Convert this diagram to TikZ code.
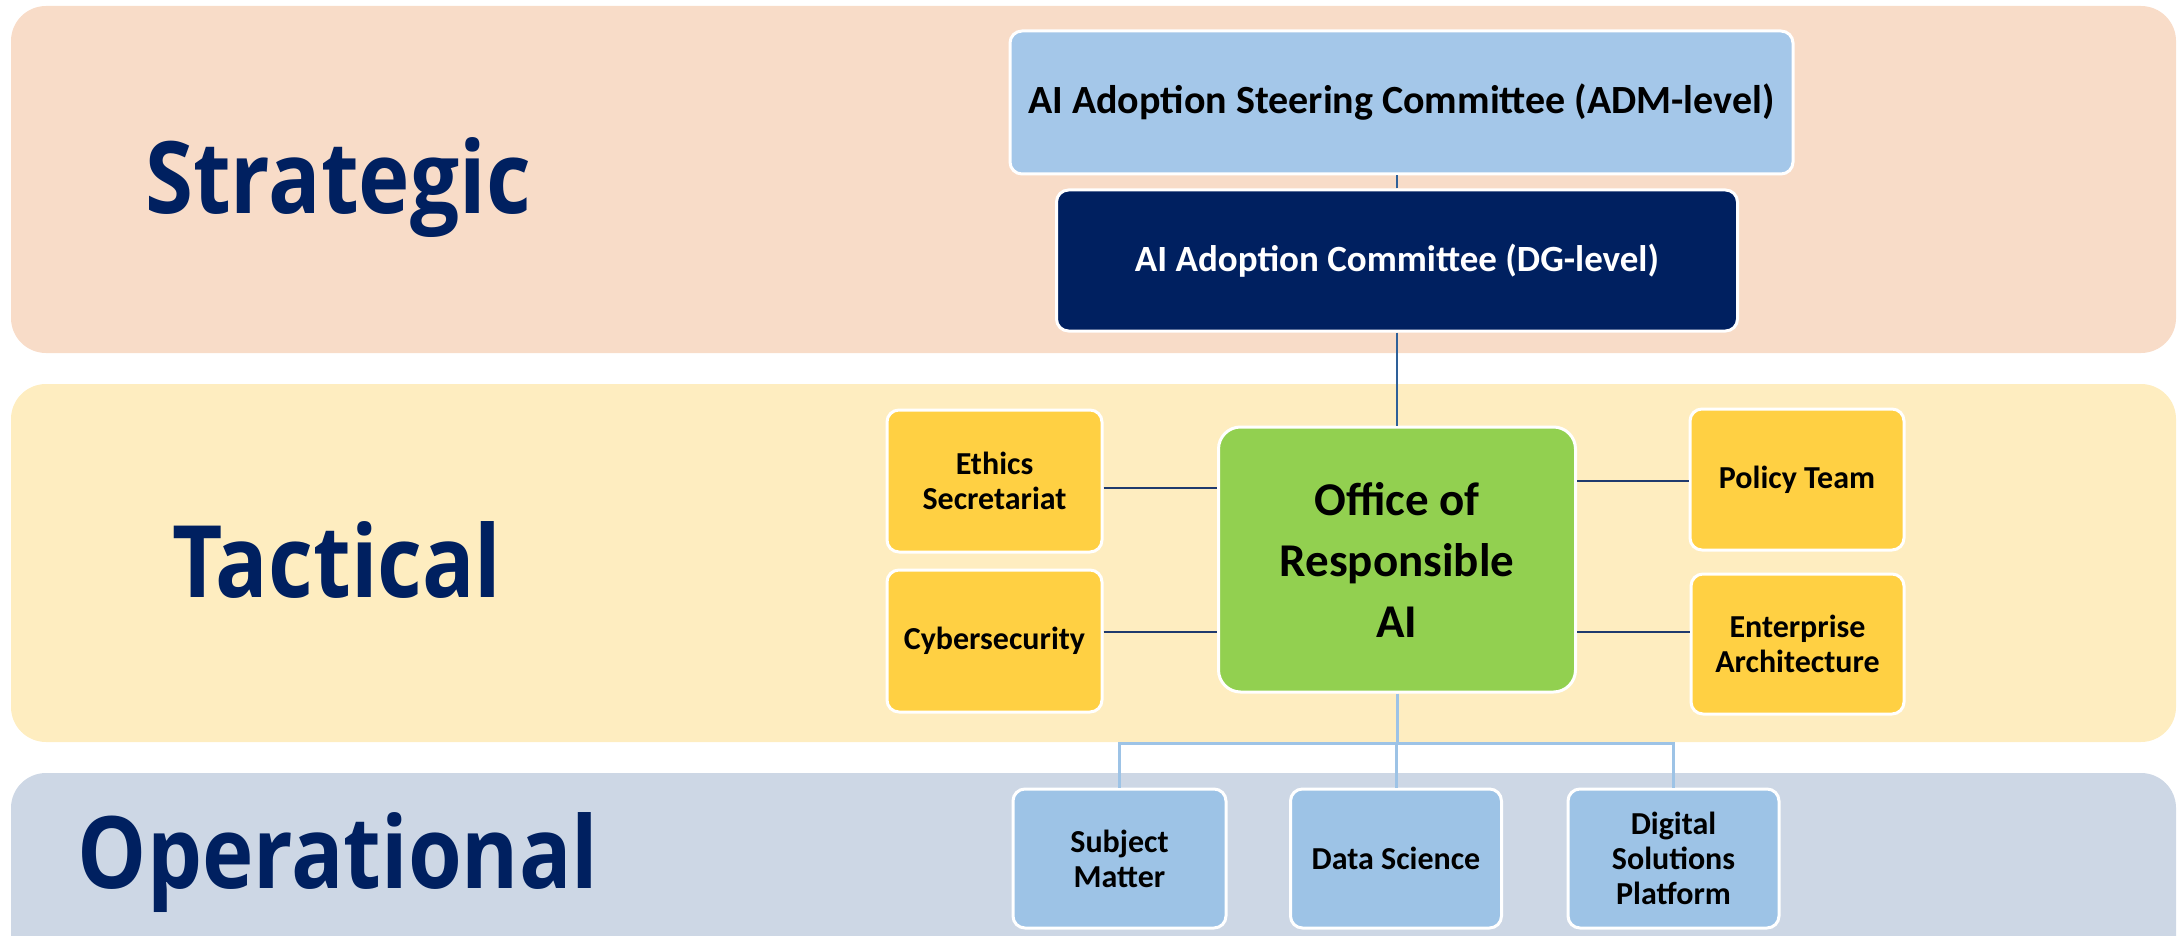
\documentclass[tikz,border=0pt]{standalone}
\usepackage{fontspec}
\setmainfont{Carlito}
\newfontfamily\labelfont{Open Sans}
\definecolor{bandS}{HTML}{F8DCC8}
\definecolor{bandT}{HTML}{FEEDC0}
\definecolor{bandO}{HTML}{CDD7E5}
\definecolor{steerblue}{HTML}{A4C7E9}
\definecolor{navy}{HTML}{002060}
\definecolor{officegreen}{HTML}{92D050}
\definecolor{gold}{HTML}{FFD043}
\definecolor{opblue}{HTML}{9DC3E6}
\definecolor{sideline}{HTML}{1F3A6E}
\definecolor{hubline}{HTML}{2E6099}
\newcommand{\lvl}[1]{\scalebox{0.87}[1]{#1}}
\tikzset{
  band/.style={rounded corners=35pt},
  levellabel/.style={text=navy, font=\labelfont\bfseries\fontsize{100}{110}\selectfont},
  box/.style={draw=white, line width=3pt, rounded corners=12pt, align=center, inner sep=0pt, font=\bfseries},
  smalltext/.style={font=\bfseries\fontsize{32}{35}\selectfont},
  sidelink/.style={draw=sideline, line width=1.6pt},
  hublink/.style={draw=hubline, line width=1.6pt},
  treelink/.style={draw=opblue, line width=3pt},
}
\begin{document}
\begin{tikzpicture}[x=1pt,y=-1pt]
\useasboundingbox (0,0) rectangle (2179,936);
\clip (0,0) rectangle (2179,936);
% bands
\fill[bandS, band] (11,6) rectangle (2176,353);
\fill[bandT, band] (11,384) rectangle (2176,742);
\fill[bandO, band] (11,773) rectangle (2176,1000);
% level labels
\node[levellabel] (lS) at (338,188) {\lvl{Strategic}};
\node[levellabel] (lT) at (337,560) {\lvl{Tactical}};
\node[levellabel] (lO) at (338,863) {\lvl{Operational}};
% strategic boxes
\node[box, fill=steerblue, minimum width=783pt, minimum height=143pt, font=\bfseries\fontsize{40}{46}\selectfont] (steer) at (1401.5,102.5) {AI Adoption Steering Committee (ADM-level)};
\node[box, fill=navy, text=white, minimum width=681pt, minimum height=141pt, font=\bfseries\fontsize{37}{42}\selectfont] (dg) at (1397,260.5) {AI Adoption Committee (DG-level)};
% tactical
\node[box, fill=officegreen, minimum width=357pt, minimum height=265pt, rounded corners=22pt, font=\bfseries\fontsize{47}{61}\selectfont] (office) at (1397,559.5) {Office of\\Responsible\\AI};
\node[box, fill=gold, minimum width=215pt, minimum height=142pt, smalltext] (ethics) at (994.5,481) {Ethics\\Secretariat};
\node[box, fill=gold, minimum width=215pt, minimum height=142pt, smalltext] (cyber) at (994.5,641) {Cybersecurity};
\node[box, fill=gold, minimum width=214pt, minimum height=141pt, smalltext] (policy) at (1797,479.5) {Policy Team};
\node[box, fill=gold, minimum width=213pt, minimum height=140pt, smalltext] (ea) at (1797.5,644) {Enterprise\\Architecture};
% operational
\node[box, fill=opblue, minimum width=213pt, minimum height=139pt, smalltext] (subj) at (1119.5,858.5) {Subject\\Matter};
\node[box, fill=opblue, minimum width=211pt, minimum height=139pt, smalltext] (data) at (1396,858.5) {Data Science};
\node[box, fill=opblue, minimum width=211pt, minimum height=139pt, smalltext] (digital) at (1673.5,858.5) {Digital\\Solutions\\Platform};
% connectors
\coordinate (yEth) at (0,488);
\coordinate (yCyb) at (0,632);
\coordinate (yPol) at (0,481);
\coordinate (yEA) at (0,632);
\draw[hublink] (dg.north) -- (dg.north |- steer.south);
\draw[hublink] (dg.south) -- (office.north);
\draw[sidelink] (ethics.east |- yEth) -- (office.west |- yEth);
\draw[sidelink] (cyber.east |- yCyb) -- (office.west |- yCyb);
\draw[sidelink] (policy.west |- yPol) -- (office.east |- yPol);
\draw[sidelink] (ea.west |- yEA) -- (office.east |- yEA);
\coordinate (bus) at (1397,743);
\draw[treelink] (office.south) -- (bus);
\draw[treelink] (subj.north) |- (bus) -| (digital.north);
\draw[treelink] (data.north) -- (data.north |- bus);
\end{tikzpicture}
\end{document}
